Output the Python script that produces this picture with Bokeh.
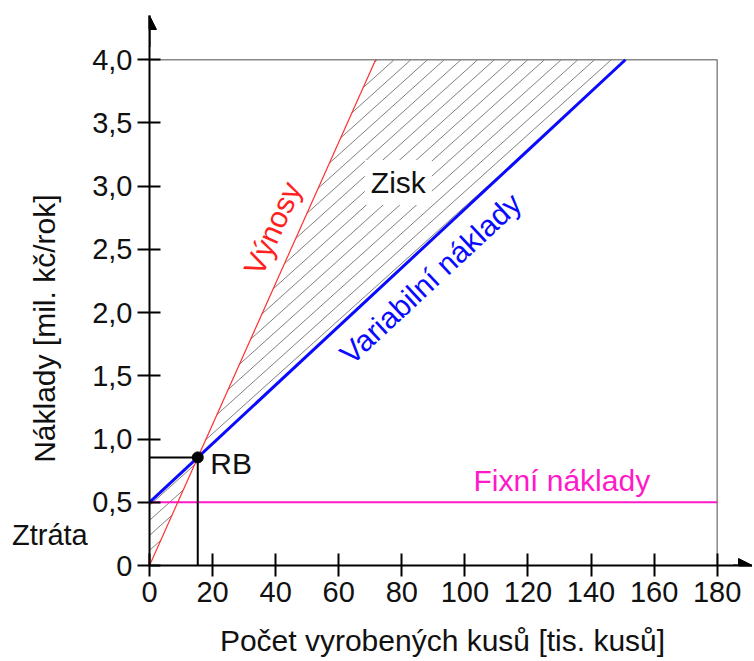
from bokeh.plotting import figure
from bokeh.layouts import row, column
from bokeh.models import (FixedTicker, Label, Arrow, NormalHead, Range1d,
                          CustomJSTickFormatter)
from bokeh.embed import file_html
from bokeh.resources import INLINE

# ---------------- data ----------------
x_ticks = [0, 20, 40, 60, 80, 100, 120, 140, 160, 180]
x_tick_labels = ["0", "20", "40", "60", "80", "100", "120", "140", "160", "180"]
y_ticks = [0, 0.5, 1.0, 1.5, 2.0, 2.5, 3.0, 3.5, 4.0]
y_tick_labels = ["0", "0,5", "1,0", "1,5", "2,0", "2,5", "3,0", "3,5", "4,0"]

vynosy_x = [0, 71.7]          # revenues
vynosy_y = [0.0, 4.0]
variabilni_x = [0, 150.9]     # variable costs
variabilni_y = [0.5, 4.0]
fixni_x = [0, 180]            # fixed costs
fixni_y = [0.5, 0.5]
rb_x = 15.3                   # break-even point
rb_y = 0.855
x_max = 180
y_max = 4.0

x_title = "Počet vyrobených kusů [tis. kusů]"
y_title = "Náklady  [mil. kč/rok]"

FONT = "Liberation Sans"
TXT = "29px"
LTXT = "30px"

# ---------------- layout geometry ----------------
LEFT_W = 88                   # strip with the y title and "Ztráta"
W, H = 664, 620               # main chart
ML, MR, MT, MB = 61, 0, 15, 55
BOTTOM_H = 40                 # strip with the x title
X_END, Y_END = 191.2, 4.35
SX = (W - ML - MR) / X_END    # px per x unit
SY = (H - MT - MB) / Y_END    # px per y unit


def blank_fig(width, height, x_range, y_range):
    f = figure(width=width, height=height, output_backend="svg",
               toolbar_location=None, x_range=x_range, y_range=y_range,
               x_axis_type=None, y_axis_type=None, min_border=0)
    f.min_border_left = f.min_border_right = f.min_border_top = f.min_border_bottom = 0
    f.outline_line_color = None
    f.grid.visible = False
    return f


p = figure(width=W, height=H, output_backend="svg", toolbar_location=None,
           x_range=Range1d(0, X_END), y_range=Range1d(0, Y_END),
           min_border_left=ML, min_border_right=MR, min_border_top=MT,
           min_border_bottom=MB)
p.outline_line_color = None
p.grid.visible = False
p.background_fill_color = "white"


def label_formatter(tvals, tlabs):
    return CustomJSTickFormatter(
        args=dict(tvals=tvals, tlabs=tlabs),
        code="""
        for (let i = 0; i < tvals.length; i++) {
            if (Math.abs(tvals[i] - tick) < 1e-9) { return tlabs[i]; }
        }
        return '';
        """)


for ax, ticks, labels in ((p.xaxis[0], x_ticks, x_tick_labels),
                          (p.yaxis[0], y_ticks, y_tick_labels)):
    ax.ticker = FixedTicker(ticks=ticks)
    ax.formatter = label_formatter(ticks, labels)
    ax.axis_line_width = 2
    ax.axis_line_color = "black"
    ax.major_tick_line_width = 2
    ax.major_tick_line_color = "black"
    ax.minor_tick_line_color = None
    ax.major_label_text_font = FONT
    ax.major_label_text_font_size = TXT
    ax.major_label_text_color = "#111111"

p.yaxis.major_tick_in = 11
p.yaxis.major_tick_out = 12
p.yaxis.major_label_standoff = 5
p.xaxis.major_tick_in = 12
p.xaxis.major_tick_out = 11
p.xaxis.major_label_standoff = 5


# hatch lines (diagonal lines in screen space, clipped to each region)
def hatch(xs, ys, spacing=16.7, slope=0.9):
    px = [v * SX for v in xs]
    py = [v * SY for v in ys]
    cvals = [pxi - pyi / slope for pxi, pyi in zip(px, py)]
    c = (int(min(cvals) // spacing) + 1) * spacing
    out = ([], [], [], [])
    n = len(px)
    while c < max(cvals):
        hits = []
        for i in range(n):
            ax_, ay_ = px[i], py[i]
            bx_, by_ = px[(i + 1) % n], py[(i + 1) % n]
            dx, dy = bx_ - ax_, by_ - ay_
            den = dy - slope * dx
            if abs(den) < 1e-12:
                continue
            t = (slope * (ax_ - c) - ay_) / den
            if -1e-9 <= t <= 1 + 1e-9:
                hits.append(ax_ + t * dx)
        if len(hits) >= 2:
            x0, x1 = min(hits), max(hits)
            out[0].append(x0 / SX)
            out[1].append(slope * (x0 - c) / SY)
            out[2].append(x1 / SX)
            out[3].append(slope * (x1 - c) / SY)
        c += spacing
    return out


for poly_x, poly_y in (([rb_x, vynosy_x[1], variabilni_x[1]], [rb_y, y_max, y_max]),
                       ([vynosy_x[0], rb_x, variabilni_x[0]],
                        [vynosy_y[0], rb_y, variabilni_y[0]])):
    hx0, hy0, hx1, hy1 = hatch(poly_x, poly_y)
    p.segment(hx0, hy0, hx1, hy1, line_color="#808080", line_width=1)

# frame lines at top and right
p.line([0, x_max, x_max], [y_max, y_max, 0], line_color="#888888", line_width=1.5)

# data lines
p.line(fixni_x, fixni_y, line_color="#ff19c8", line_width=2)
p.line(vynosy_x, vynosy_y, line_color="#ff3030", line_width=1.2)
p.line(variabilni_x, variabilni_y, line_color="#0a0aff", line_width=3)

# break-even guides
p.line([0, rb_x, rb_x], [rb_y, rb_y, 0], line_color="black", line_width=2)
p.scatter([rb_x], [rb_y], size=11, color="black")

# axis arrows
p.add_layout(Arrow(x_start=0, y_start=4.1, x_end=0, y_end=Y_END, line_width=2,
                   end=NormalHead(size=14, fill_color="black", line_color="black")))
p.add_layout(Arrow(x_start=185, y_start=0, x_end=X_END, y_end=0, line_width=2,
                   end=NormalHead(size=14, fill_color="black", line_color="black")))

# texts in the chart
p.add_layout(Label(x=78.9, y=3.03, text="Zisk", text_font=FONT, text_font_size=LTXT,
                   text_color="#111111", text_align="center", text_baseline="middle",
                   background_fill_color="white", padding=6))
p.add_layout(Label(x=39.0, y=2.666, text="Výnosy", text_font=FONT, text_font_size=LTXT,
                   text_color="#ff2020", text_align="center", text_baseline="middle",
                   angle=1.150))
p.add_layout(Label(x=89.1, y=2.271, text="Variabilní náklady", text_font=FONT,
                   text_font_size=LTXT, text_color="#0a0aff", text_align="center",
                   text_baseline="middle", angle=0.749))
p.add_layout(Label(x=102.7, y=0.672, text="Fixní náklady", text_font=FONT,
                   text_font_size=LTXT, text_color="#ff19c8", text_align="left",
                   text_baseline="middle"))
p.add_layout(Label(x=19.3, y=0.807, text="RB", text_font=FONT, text_font_size=LTXT,
                   text_color="#111111", text_align="left", text_baseline="middle"))

# ---------------- left strip: y title and "Ztráta" (same y scale) ----------------
frame_bottom_px = MT + (H - MT - MB)          # 565
left = blank_fig(LEFT_W, H + BOTTOM_H, Range1d(0, LEFT_W),
                 Range1d(-(H + BOTTOM_H - frame_bottom_px) / SY, frame_bottom_px / SY))
left.add_layout(Label(x=44, y=1.906, text=y_title, text_font=FONT,
                      text_font_size=LTXT, text_color="#111111", text_align="center",
                      text_baseline="middle", angle=1.5708))
left.add_layout(Label(x=11.5, y=0.24, text="Ztráta", text_font=FONT,
                      text_font_size=TXT, text_color="#111111", text_align="left",
                      text_baseline="middle"))

# ---------------- bottom strip: x title (frame aligned with the chart's frame) ----------------
bottom = blank_fig(W, BOTTOM_H, Range1d(0, X_END), Range1d(0, BOTTOM_H))
bottom.add_layout(Label(x=92.9, y=20, text=x_title, text_font=FONT,
                        text_font_size=LTXT, text_color="#111111",
                        text_align="center", text_baseline="middle"))

layout = row(left, column(p, bottom, spacing=0), spacing=0)

open("out.html", "w").write(file_html(layout, INLINE))
